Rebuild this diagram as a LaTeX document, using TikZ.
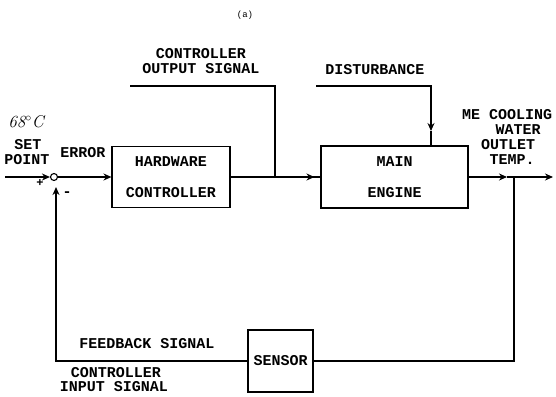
\documentclass[tikz,border=0pt]{standalone}
\usepackage{fontspec}
\newfontfamily\dm{Liberation Mono}
\usetikzlibrary{arrows.meta}
\begin{document}
\begin{tikzpicture}[x=1pt,y=-1pt,
  txt/.style={font=\dm\fontsize{15}{31}\selectfont\bfseries, inner sep=0pt, align=center},
  blk/.style={txt, draw, line width=1.1pt},
  wire/.style={line width=1.1pt},
  arr/.style={wire,-{Stealth[length=8pt,width=7pt]}}]
\useasboundingbox (0,0) rectangle (556,396);

% blocks
\node[blk, minimum width=118pt, minimum height=61pt] (hw) at (171,177) {HARDWARE\\CONTROLLER};
\node[blk, minimum width=147pt, minimum height=62pt] (me) at (394.5,177) {MAIN\\ENGINE};
\node[blk, minimum width=65pt, minimum height=62pt] (sen) at (280.5,361) {SENSOR};
\node[draw, circle, line width=1.1pt, minimum size=7pt, inner sep=0pt] (sum) at (54,177) {};

% coordinates
\coordinate (sp) at (5,177);
\coordinate (c1) at (130,86);
\coordinate (c2) at (275,86);
\coordinate (d1) at (316,86);
\coordinate (d2) at (431,86);
\coordinate (d3) at (431,131);
\coordinate (o1) at (507,177);
\coordinate (br) at (514,177);
\coordinate (oe) at (553,177);
\coordinate (fb) at (56,361);

% connectors
\draw[arr] (sp) -- (sum);
\draw[arr] (sum) -- (hw);
\draw[wire] (hw.east) -- (me.west);
\draw[arr] (hw.east) -- ([xshift=-6pt]me.west);
\draw[wire] (c1) -- (c2) -- (c2 |- hw.east);
\draw[arr] (d1) -- (d2) -- (d3);
\draw[wire] (d3) -- (d3 |- me.north);
\draw[arr] (me.east) -- (o1);
\draw[arr] (o1) -- (oe);
\draw[wire] (br) -- (br |- sen.east) -- (sen.east);
\draw[arr, shorten >=6pt] (sen.west) -- (fb) -- (fb |- sum.south);

% labels
\node[txt] (la) at (245,15) {\fontsize{9}{10}\selectfont\mdseries (a)};
\node[txt] (lco) at (201,54) {CONTROLLER};
\node[txt] (los) at (201,69) {OUTPUT SIGNAL};
\node[txt] (ldi) at (375,70) {DISTURBANCE};
\node[txt] (lset) at (28,145) {SET};
\node[txt] (lpt) at (27,160) {POINT};
\node[txt] (ler) at (83,153) {ERROR};
\node[font=\itshape\fontsize{17}{18}\selectfont, inner sep=0pt] (ltemp) at (26,122) {68$^\circ$C};
\node[txt] (lplus) at (40,183) {\fontsize{12}{12}\selectfont +};
\node[txt] (lminus) at (67,194) {-};
\node[txt] (lme) at (507,115) {ME COOLING};
\node[txt] (lwa) at (518,130) {WATER};
\node[txt] (lou) at (508,145) {OUTLET};
\node[txt] (lte) at (512,160) {TEMP.};
\node[txt] (lfb) at (147,344) {FEEDBACK SIGNAL};
\node[txt] (lci) at (116,373) {CONTROLLER};
\node[txt] (lis) at (114,387) {INPUT SIGNAL};
\end{tikzpicture}
\end{document}
